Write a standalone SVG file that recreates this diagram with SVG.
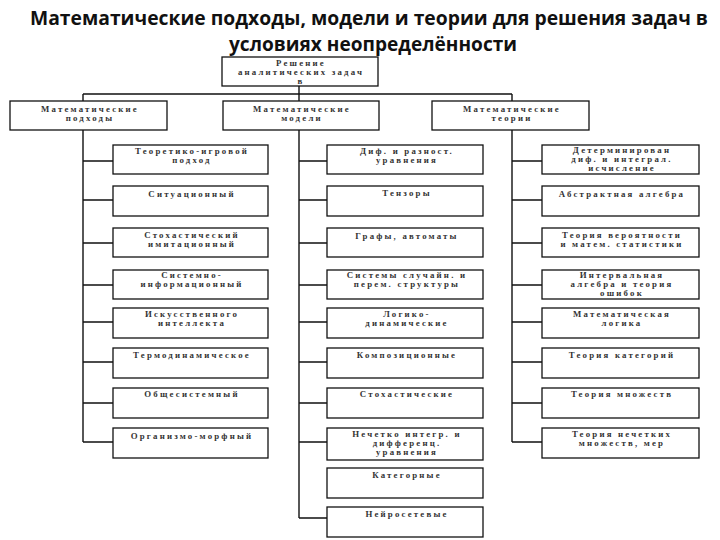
<svg xmlns="http://www.w3.org/2000/svg" width="720" height="540" viewBox="0 0 720 540">
<style>
.bg{fill:#ffffff}
.box{fill:#ffffff;stroke:#111;stroke-width:1.3}
.ln{stroke:#111;stroke-width:1.4;fill:none}
.t{font-family:"Liberation Serif","Times New Roman","DejaVu Serif",serif;font-size:8.8px;font-weight:bold;letter-spacing:2.2px;fill:#333;text-anchor:middle}
.title{font-family:"Open Sans","Liberation Sans",sans-serif;font-size:19px;font-weight:bold;fill:#111}
</style>
<rect class="bg" x="0" y="0" width="720" height="540"/>
<g id="title">
<text class="title" x="30" y="25" textLength="678" lengthAdjust="spacingAndGlyphs">Математические подходы, модели и теории для решения задач в</text>
<text class="title" x="229" y="51" textLength="288" lengthAdjust="spacingAndGlyphs">условиях неопределённости</text>
</g>
<g id="connectors">
<path class="ln" d="M299 86V94M83 94H512M83 94V101M299 94V101M512 94V101"/>
<path class="ln" d="M83 130V442M83 161H113M83 200H113M83 243H113M83 285H113M83 322H113M83 362H113M83 403H113M83 442H113"/>
<path class="ln" d="M299 130V518M299 161H327M299 200H327M299 243H327M299 285H327M299 322H327M299 362H327M299 403H327M299 442H327M299 518H327"/>
<path class="ln" d="M512 130V442M512 161H542M512 200H542M512 243H542M512 285H542M512 322H542M512 362H542M512 403H542M512 442H542"/>
</g>
<g id="root"><rect class="box" x="222" y="57" width="156" height="29"/><text class="t" x="301" y="66">Решение</text><text class="t" x="301" y="75">аналитических задач</text><text class="t" x="301" y="84">в</text></g>
<g id="h1"><rect class="box" x="10" y="101" width="157" height="29"/><text class="t" x="90" y="112">Математические</text><text class="t" x="90" y="121">подходы</text></g>
<g id="h2"><rect class="box" x="223" y="101" width="156" height="29"/><text class="t" x="302" y="112">Математические</text><text class="t" x="302" y="121">модели</text></g>
<g id="h3"><rect class="box" x="432" y="101" width="157" height="29"/><text class="t" x="512" y="112">Математические</text><text class="t" x="512" y="121">теории</text></g>

<g id="a1"><rect class="box" x="113" y="145" width="155" height="29"/><text class="t" x="192" y="154">Теоретико-игровой</text><text class="t" x="192" y="163">подход</text></g>
<g id="a2"><rect class="box" x="113" y="186" width="155" height="30"/><text class="t" x="192" y="197">Ситуационный</text></g>
<g id="a3"><rect class="box" x="113" y="228" width="155" height="29"/><text class="t" x="192" y="238">Стохастический</text><text class="t" x="192" y="247">имитационный</text></g>
<g id="a4"><rect class="box" x="113" y="270" width="155" height="29"/><text class="t" x="192" y="278">Системно-</text><text class="t" x="192" y="287">информационный</text></g>
<g id="a5"><rect class="box" x="113" y="308" width="155" height="30"/><text class="t" x="192" y="317">Искусственного</text><text class="t" x="192" y="326">интеллекта</text></g>
<g id="a6"><rect class="box" x="113" y="348" width="155" height="30"/><text class="t" x="192" y="358">Термодинамическое</text></g>
<g id="a7"><rect class="box" x="113" y="388" width="155" height="30"/><text class="t" x="192" y="397">Общесистемный</text></g>
<g id="a8"><rect class="box" x="113" y="428" width="155" height="30"/><text class="t" x="192" y="439">Организмо-морфный</text></g>

<g id="b1"><rect class="box" x="327" y="145" width="156" height="29"/><text class="t" x="407" y="154">Диф. и разност.</text><text class="t" x="407" y="163">уравнения</text></g>
<g id="b2"><rect class="box" x="327" y="186" width="156" height="30"/><text class="t" x="407" y="196">Тензоры</text></g>
<g id="b3"><rect class="box" x="327" y="228" width="156" height="29"/><text class="t" x="407" y="239">Графы, автоматы</text></g>
<g id="b4"><rect class="box" x="327" y="270" width="156" height="29"/><text class="t" x="407" y="278">Системы случайн. и</text><text class="t" x="407" y="287">перем. структуры</text></g>
<g id="b5"><rect class="box" x="327" y="308" width="156" height="30"/><text class="t" x="407" y="317">Логико-</text><text class="t" x="407" y="326">динамические</text></g>
<g id="b6"><rect class="box" x="327" y="348" width="156" height="30"/><text class="t" x="407" y="358">Композиционные</text></g>
<g id="b7"><rect class="box" x="327" y="388" width="156" height="30"/><text class="t" x="407" y="397">Стохастические</text></g>
<g id="b8"><rect class="box" x="327" y="428" width="156" height="32"/><text class="t" x="407" y="437">Нечетко интегр. и</text><text class="t" x="407" y="446">дифференц.</text><text class="t" x="407" y="455">уравнения</text></g>
<g id="b9"><rect class="box" x="327" y="468" width="156" height="30"/><text class="t" x="407" y="478">Категорные</text></g>
<g id="b10"><rect class="box" x="327" y="507" width="156" height="30"/><text class="t" x="407" y="517">Нейросетевые</text></g>

<g id="c1"><rect class="box" x="542" y="145" width="157" height="29"/><text class="t" x="622" y="153">Детерминирован</text><text class="t" x="622" y="162">диф. и интеграл.</text><text class="t" x="622" y="171">исчисление</text></g>
<g id="c2"><rect class="box" x="542" y="186" width="157" height="30"/><text class="t" x="622" y="197">Абстрактная алгебра</text></g>
<g id="c3"><rect class="box" x="542" y="228" width="157" height="29"/><text class="t" x="622" y="238">Теория вероятности</text><text class="t" x="622" y="247">и матем. статистики</text></g>
<g id="c4"><rect class="box" x="542" y="270" width="157" height="29"/><text class="t" x="622" y="278">Интервальная</text><text class="t" x="622" y="287">алгебра и теория</text><text class="t" x="622" y="296">ошибок</text></g>
<g id="c5"><rect class="box" x="542" y="308" width="157" height="30"/><text class="t" x="622" y="317">Математическая</text><text class="t" x="622" y="326">логика</text></g>
<g id="c6"><rect class="box" x="542" y="348" width="157" height="30"/><text class="t" x="622" y="358">Теория категорий</text></g>
<g id="c7"><rect class="box" x="542" y="388" width="157" height="30"/><text class="t" x="622" y="397">Теория множеств</text></g>
<g id="c8"><rect class="box" x="542" y="428" width="157" height="30"/><text class="t" x="622" y="437">Теория нечетких</text><text class="t" x="622" y="446">множеств, мер</text></g>
</svg>
